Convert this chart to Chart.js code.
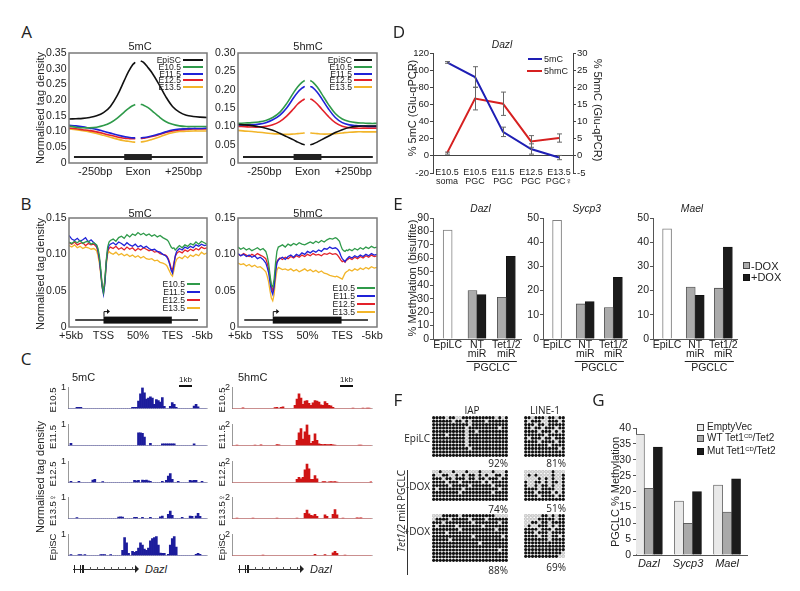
<!DOCTYPE html>
<html><head><meta charset="utf-8">
<script src="https://cdn.jsdelivr.net/npm/chart.js@4.4.1/dist/chart.umd.min.js"></script>
<style>
html,body{margin:0;padding:0;background:#fff;}
#fig{position:relative;width:800px;height:591px;overflow:hidden;background:#fff;}
#fig canvas{position:absolute;}
.t{position:absolute;white-space:nowrap;color:#222;line-height:1;}
.t sup{font-size:0.6em;vertical-align:0.5em;line-height:0;}
.r{position:absolute;box-sizing:border-box;}
</style></head><body><div id="fig"></div>
<script>
// ================= DATA =================
// Panel A (exon-centred profiles)
const seriesNames = ['EpiSC','E10.5','E11.5','E12.5','E13.5'];
const seriesColors = ['#111111','#2f9a4a','#1f22d8','#e3212a','#f2b52a'];
const xA = [0,5,10,15,20,25,30,35,40,43,46,48,50,52,54,57,60,65,70,75,80,85,90,95,100];
const aTickPos = [19,50,83];
const aTickLab = ['-250bp','Exon','+250bp'];
const a5mC_EpiSC = [0.140,0.141,0.142,0.145,0.150,0.160,0.180,0.215,0.262,0.290,0.312,0.320,null,0.325,0.320,0.305,0.288,0.252,0.212,0.180,0.162,0.152,0.148,0.146,0.145];
const a5mC_E105  = [0.118,0.114,0.112,0.112,0.114,0.119,0.128,0.143,0.162,0.173,0.182,0.186,null,0.187,0.184,0.177,0.167,0.148,0.132,0.123,0.118,0.116,0.116,0.116,0.116];
const a5mC_E115  = [0.120,0.118,0.115,0.111,0.107,0.101,0.095,0.089,0.084,0.082,0.080,0.080,null,0.080,0.081,0.083,0.086,0.092,0.099,0.105,0.108,0.109,0.110,0.110,0.111];
const a5mC_E125  = [0.111,0.109,0.106,0.103,0.099,0.094,0.088,0.083,0.079,0.078,0.077,0.077,null,0.078,0.079,0.081,0.084,0.090,0.097,0.102,0.105,0.107,0.108,0.108,0.108];
const a5mC_E135  = [0.108,0.106,0.103,0.099,0.094,0.088,0.082,0.076,0.071,0.069,0.067,0.066,null,0.067,0.068,0.071,0.075,0.082,0.090,0.096,0.100,0.101,0.102,0.102,0.102];
const a5hmC_EpiSC= [0.105,0.104,0.102,0.099,0.095,0.089,0.081,0.072,0.063,0.057,0.052,0.050,null,0.050,0.052,0.057,0.063,0.073,0.083,0.091,0.097,0.100,0.101,0.101,0.101];
const a5hmC_E105 = [0.108,0.109,0.110,0.112,0.116,0.124,0.138,0.162,0.192,0.208,0.220,0.225,null,0.225,0.220,0.207,0.190,0.160,0.135,0.120,0.113,0.110,0.109,0.108,0.108];
const a5hmC_E115 = [0.104,0.104,0.104,0.106,0.110,0.118,0.130,0.150,0.178,0.193,0.204,0.209,null,0.209,0.205,0.193,0.177,0.148,0.124,0.110,0.104,0.102,0.101,0.100,0.100];
const a5hmC_E125 = [0.100,0.099,0.098,0.098,0.100,0.104,0.113,0.128,0.148,0.161,0.170,0.175,null,0.175,0.171,0.161,0.148,0.127,0.110,0.100,0.096,0.095,0.095,0.095,0.095];
const a5hmC_E135 = [0.089,0.087,0.086,0.084,0.082,0.080,0.079,0.078,0.079,0.080,0.081,0.082,null,0.082,0.081,0.080,0.079,0.079,0.080,0.082,0.084,0.085,0.085,0.085,0.085];

// Panel B (gene-body metaprofiles)
const xB = [0,2,4,6,8,10,12,14,16,18,20,21,22,23,24,25,26,27,28,29,30,32,34,36,38,40,42,44,46,48,50,52,54,56,58,60,62,64,66,68,70,71,72,73,74,75,76,77,78,79,80,82,84,86,88,90,92,94,96,98,100];
const bTickPos = [1.5,25,50,75,96.5];
const bTickLab = ['+5kb','TSS','50%','TES','-5kb'];
const b5mC_E105 = [0.117,0.115,0.118,0.116,0.119,0.115,0.117,0.118,0.114,0.116,0.113,0.108,0.098,0.080,0.058,0.048,0.065,0.092,0.110,0.117,0.119,0.121,0.118,0.123,0.125,0.122,0.127,0.124,0.128,0.126,0.130,0.127,0.129,0.126,0.128,0.125,0.127,0.124,0.126,0.123,0.121,0.120,0.118,0.114,0.110,0.108,0.109,0.106,0.108,0.110,0.112,0.109,0.113,0.111,0.115,0.113,0.117,0.114,0.118,0.116,0.114];
const b5mC_E115 = [0.126,0.121,0.119,0.122,0.118,0.120,0.123,0.117,0.120,0.116,0.112,0.105,0.094,0.075,0.055,0.045,0.060,0.088,0.106,0.112,0.114,0.116,0.113,0.117,0.115,0.112,0.116,0.113,0.111,0.114,0.110,0.112,0.109,0.111,0.108,0.106,0.107,0.104,0.103,0.100,0.098,0.096,0.092,0.086,0.078,0.074,0.085,0.098,0.104,0.106,0.108,0.106,0.110,0.108,0.111,0.109,0.113,0.111,0.114,0.112,0.113];
const b5mC_E125 = [0.116,0.114,0.117,0.113,0.115,0.116,0.112,0.115,0.113,0.114,0.110,0.104,0.093,0.076,0.058,0.050,0.064,0.090,0.104,0.108,0.110,0.108,0.111,0.107,0.109,0.106,0.110,0.107,0.109,0.105,0.108,0.106,0.109,0.107,0.105,0.106,0.103,0.104,0.101,0.100,0.099,0.097,0.094,0.088,0.081,0.078,0.088,0.097,0.101,0.103,0.104,0.102,0.106,0.104,0.107,0.105,0.108,0.106,0.110,0.108,0.109];
const b5mC_E135 = [0.112,0.110,0.113,0.109,0.111,0.108,0.110,0.109,0.107,0.108,0.105,0.098,0.088,0.072,0.054,0.046,0.060,0.085,0.100,0.104,0.102,0.100,0.103,0.099,0.101,0.098,0.100,0.097,0.099,0.096,0.098,0.095,0.097,0.094,0.093,0.094,0.091,0.092,0.089,0.088,0.086,0.084,0.080,0.076,0.072,0.070,0.078,0.088,0.093,0.095,0.096,0.094,0.098,0.095,0.099,0.097,0.100,0.098,0.103,0.100,0.102];
const b5hmC_E105 = [0.110,0.107,0.109,0.106,0.108,0.105,0.107,0.109,0.106,0.108,0.104,0.098,0.088,0.072,0.058,0.055,0.066,0.088,0.104,0.110,0.111,0.113,0.110,0.114,0.112,0.115,0.113,0.116,0.114,0.113,0.115,0.117,0.115,0.118,0.116,0.119,0.117,0.120,0.122,0.121,0.123,0.122,0.120,0.118,0.112,0.107,0.105,0.104,0.106,0.105,0.107,0.105,0.108,0.106,0.109,0.107,0.110,0.108,0.111,0.109,0.110];
const b5hmC_E115 = [0.101,0.098,0.100,0.097,0.099,0.096,0.098,0.094,0.096,0.093,0.088,0.082,0.075,0.062,0.050,0.045,0.055,0.075,0.088,0.092,0.094,0.096,0.093,0.097,0.099,0.096,0.100,0.098,0.102,0.100,0.104,0.102,0.105,0.103,0.106,0.104,0.108,0.107,0.110,0.108,0.109,0.108,0.106,0.103,0.098,0.094,0.092,0.090,0.093,0.095,0.097,0.095,0.098,0.096,0.099,0.097,0.100,0.098,0.101,0.099,0.100];
const b5hmC_E125 = [0.100,0.098,0.101,0.099,0.097,0.100,0.098,0.101,0.099,0.097,0.094,0.088,0.080,0.068,0.055,0.050,0.058,0.078,0.090,0.093,0.095,0.093,0.096,0.094,0.097,0.095,0.098,0.096,0.099,0.097,0.100,0.098,0.101,0.099,0.100,0.098,0.101,0.100,0.102,0.100,0.101,0.100,0.098,0.095,0.092,0.090,0.091,0.089,0.092,0.093,0.095,0.093,0.096,0.094,0.097,0.095,0.098,0.096,0.099,0.097,0.098];
const b5hmC_E135 = [0.088,0.086,0.087,0.084,0.086,0.083,0.085,0.082,0.083,0.080,0.076,0.070,0.062,0.050,0.040,0.036,0.045,0.065,0.078,0.082,0.081,0.079,0.080,0.078,0.080,0.077,0.079,0.076,0.078,0.080,0.077,0.079,0.076,0.078,0.075,0.077,0.074,0.073,0.071,0.070,0.069,0.070,0.069,0.068,0.067,0.066,0.070,0.074,0.076,0.077,0.079,0.077,0.080,0.078,0.081,0.079,0.082,0.080,0.083,0.081,0.082];

// Panel C (browser tracks, Dazl locus, 70 bins)
const cTrackNames = ['E10.5','E11.5','E12.5','E13.5\u2640','EpiSC'];
const mC_E105 = [0,0,0,0,0.06,0.06,0.05,0,0,0, 0,0,0,0,0,0,0,0,0,0, 0,0,0,0,0,0,0,0,0,0, 0,0,0.05,0.05,0.06,0.35,0.7,1.0,0.75,0.45, 0.5,0.55,0.5,0.2,0.42,0.38,0.3,0.52,0.1,0, 0,0.1,0.28,0.2,0.05,0,0,0,0,0, 0,0,0,0.12,0.2,0.08,0,0,0,0];
const mC_E115 = [0,0.1,0,0,0,0,0,0,0,0, 0,0,0,0,0,0,0,0,0,0, 0,0,0,0,0,0,0,0,0,0, 0,0,0,0,0,0.6,0.6,0.58,0.4,0, 0,0.1,0,0,0,0,0,0.08,0.08,0.08, 0.08,0.08,0.08,0.08,0,0,0,0,0,0, 0,0,0,0.08,0,0,0,0,0,0];
const mC_E125 = [0,0.05,0,0,0,0.05,0,0,0,0, 0,0,0.12,0.15,0,0,0,0.04,0,0, 0,0,0,0,0,0,0,0,0,0, 0,0,0,0.1,0.08,0.1,0,0.12,0.1,0.12, 0.08,0.05,0,0,0,0,0,0.06,0,0.1, 0.3,0.42,0.15,0,0,0.05,0,0,0,0, 0,0.1,0.08,0.1,0.1,0,0,0.05,0,0];
const mC_E135 = [0,0,0,0,0.04,0,0,0,0,0, 0,0,0,0,0,0,0,0,0,0, 0,0,0,0,0,0.07,0.08,0.07,0,0, 0,0,0,0.06,0.06,0,0,0.05,0,0, 0,0.06,0,0,0,0,0.08,0.12,0,0, 0.2,0.35,0.15,0,0,0,0,0.06,0,0, 0,0.12,0.1,0,0.12,0.25,0.1,0,0,0];
const mC_EpiSC = [0,0.04,0,0,0,0.04,0.04,0,0.04,0, 0,0,0,0,0,0,0.04,0.04,0.04,0, 0,0.04,0,0,0,0,0,0.25,0.85,0.6, 0.1,0,0.2,0.15,0.2,0.35,0.6,0.5,0.3,0.25, 0.35,0.7,0.8,0.85,0.9,0.5,0.12,0.1,0.1,0, 0.05,0.5,0.8,0.9,0.4,0,0,0,0,0, 0,0,0,0,0.06,0.1,0.05,0,0,0];
const hmC_E105 = [0,0,0,0,0,0.06,0,0,0,0, 0,0,0,0,0,0,0,0,0,0, 0,0.08,0.1,0,0.12,0.15,0,0,0,0, 0,0.3,0.9,1.4,1.0,0.4,0.7,0.75,0.5,0.3, 0.55,0.75,0.7,0.6,0.35,0.3,0.65,0.5,0.3,0.25, 0.1,0,0,0,0,0,0,0,0,0, 0.05,0,0,0,0,0.05,0,0.05,0.05,0];
const hmC_E115 = [0,0,0.05,0,0,0,0,0,0,0, 0,0.05,0,0,0.07,0,0,0,0,0, 0,0,0.08,0.07,0,0,0,0,0,0, 0,0,0.5,1.2,1.6,0.6,1.3,2.0,1.0,0.2, 0.4,1.1,0.5,0.15,0.1,0.08,0.1,0.08,0.08,0.1, 0.06,0.05,0,0,0,0,0,0,0,0, 0,0,0,0.05,0.05,0,0,0,0,0];
const hmC_E125 = [0,0,0,0,0,0,0,0,0,0, 0,0,0,0,0,0,0,0,0,0, 0,0,0,0,0,0,0,0,0,0, 0,0,0.3,0.5,0.35,0.5,1.2,1.75,1.3,0.3, 0.3,0.65,0.35,0,0,0.08,0.08,0,0.06,0.08, 0.06,0.08,0.05,0,0,0,0,0,0,0, 0,0,0,0,0,0,0,0,0,0.06];
const hmC_E135 = [0,0,0.05,0,0,0,0,0,0,0, 0.05,0,0,0,0,0,0,0,0,0, 0,0,0.05,0,0,0,0,0,0,0, 0,0,0.05,0,0,0,0.5,0.8,0.45,0.3, 0.25,0.4,0.2,0,0,0,0.35,0.2,0,0, 0.4,0.85,0.35,0,0,0.05,0,0,0,0, 0,0,0.06,0.05,0.06,0,0,0,0,0];
const hmC_EpiSC = [0,0,0,0,0,0,0,0,0,0, 0,0,0,0,0,0.05,0,0,0,0, 0,0,0,0,0,0,0,0,0,0, 0,0,0,0,0,0,0,0,0,0, 0,0.12,0,0,0,0,0.08,0,0,0, 0.25,0.4,0.2,0,0,0,0.05,0,0,0, 0,0,0,0,0,0,0,0,0,0];

// Panel D (Dazl Glu-qPCR)
const dCats = [['E10.5','soma'],['E10.5','PGC'],['E11.5','PGC'],['E12.5','PGC'],['E13.5','PGC\u2640']];
const d5mC = [109, 92, 28, 8, -2];
const d5mCErr = [1, 12, 5.5, 6, 2.5];
const d5hmC = [0.8, 16.7, 15.2, 4.2, 5.2];
const d5hmCErr = [0.3, 3.3, 3.4, 1.7, 1.2];

// Panel E (bisulfite)
const eCats = ['EpiLC', ['NT','miR'], ['Tet1/2','miR']];
const eDazl_EpiLC = [81, null, null];
const eDazl_minus = [null, 36, 31];
const eDazl_plus  = [null, 33, 61.5];
const eSycp3_EpiLC = [49, null, null];
const eSycp3_minus = [null, 14.5, 13];
const eSycp3_plus  = [null, 15.5, 25.5];
const eMael_EpiLC = [45.5, null, null];
const eMael_minus = [null, 21.5, 21];
const eMael_plus  = [null, 18, 38];

// Panel F (bisulfite clones: 1 = methylated CpG, 0 = unmethylated)
const fIAP_EpiLC = ["11110110011111111110101","11111101101011110111111","11111111111011111111111","11111111110111111111011","11111111110110111111111","11110111110111111111111","11111111110111111111111","11111111110111111111111","11111111110111111111111","11111111111011111111111","11111111111111111111111","11111111111111111111111"];
const fL1_EpiLC = ["110111011011","101110011101","111011011111","110110111011","111101110101","111111011111","101110110111","111101111011","111111101111","111111111101","111111111111","111111111111"];
const fIAP_minus = ["00100010001000100010001","10011001010110101001101","11101101110110110111011","11110111011111101011111","11111011111011111101111","10111111101111111111011","11111111011111111101111","11111111111111111111111","11111111111111111111111"];
const fL1_minus = ["000000001000","010100001001","000010101001","100110101101","100101101001","111101111001","111011110101","111101111011","111111111111"];
const fIAP_plus = ["00011111011111111110000","01111011111011110111111","11101111111101111111011","10111110111111101111111","11111111011111111110111","11110111111111111111111","11111111111101111111101","11111011111111111111111","11111111111111011111111","11111111111111111111111","11111111111111111111011","11111111111111111111111","11111111111111111111111","11111111111111111111111"];
const fL1_plus = ["000001101011","000011111011","001101101111","010011101011","111101110111","111011101111","111101101101","111111101111","111111111111","111111111111","111111111111","111111111110","111111111100"];

// Panel G
const gCats = ['Dazl','Sycp3','Mael'];
const gEmpty = [38, 17, 22];
const gWT = [21, 10, 13.5];
const gMut = [34, 20, 24];

// ================= SETUP =================
const fig = document.getElementById('fig');
const SANS = "'Liberation Sans', Arial, sans-serif";
const NARROW = "'Liberation Sans Narrow', 'Arial Narrow', 'Liberation Sans', Arial, sans-serif";
const OPEN = "'Open Sans', 'Liberation Sans', sans-serif";
const _mc = document.createElement('canvas').getContext('2d');
function mw(f){ _mc.font = '20px ' + f; return _mc.measureText('Sycp3 E10.5 120').width; }
const HAS_NARROW = mw(NARROW) < 0.92 * mw(SANS);
const NF = HAS_NARROW ? NARROW : SANS;
function ns(s){ return HAS_NARROW ? s : Math.round(s * 0.86 * 10) / 10; }

Chart.defaults.font.family = SANS;
Chart.defaults.font.size = 10;
Chart.defaults.font.lineHeight = 1;
Chart.defaults.color = '#222';
Chart.defaults.plugins.legend.display = false;
Chart.defaults.plugins.tooltip.enabled = false;
Chart.defaults.events = [];

const framePlugin = { id:'frame', defaults:{color:null, width:1},
  afterDraw(ch, a, o){ if(!o.color) return; const r = ch.chartArea, c = ch.ctx; c.save(); c.strokeStyle = o.color; c.lineWidth = o.width; c.strokeRect(r.left, r.top, r.right - r.left, r.bottom - r.top); c.restore(); } };
const genePlugin = { id:'gene', defaults:{show:false},
  afterDraw(ch, a, o){ if(!o.show) return; const x = ch.scales.x, y = ch.scales.y, c = ch.ctx; const py = y.getPixelForValue(o.y);
    c.save(); c.strokeStyle = o.color; c.fillStyle = o.color; c.lineWidth = o.lw;
    c.beginPath(); c.moveTo(x.getPixelForValue(o.from), py); c.lineTo(x.getPixelForValue(o.to), py); c.stroke();
    const b0 = x.getPixelForValue(o.boxFrom), b1 = x.getPixelForValue(o.boxTo);
    c.fillRect(b0, py - o.boxH/2, b1 - b0, o.boxH);
    if(o.arrow){ const tp = py - o.boxH/2; c.lineWidth = 1; c.beginPath(); c.moveTo(b0 + 0.5, tp); c.lineTo(b0 + 0.5, tp - 5); c.lineTo(b0 + 4, tp - 5); c.stroke();
      c.beginPath(); c.moveTo(b0 + 6.5, tp - 5); c.lineTo(b0 + 3.5, tp - 7.5); c.lineTo(b0 + 3.5, tp - 2.5); c.closePath(); c.fill(); }
    c.restore(); } };
const errPlugin = { id:'errbars',
  afterDatasetsDraw(ch){ const c = ch.ctx; ch.data.datasets.forEach((ds, i) => { if(!ds.errors) return; const meta = ch.getDatasetMeta(i); const ys = ch.scales[ds.yAxisID || 'y'];
    c.save(); c.strokeStyle = '#666'; c.lineWidth = 1;
    meta.data.forEach((pt, j) => { const v = ds.data[j], e = ds.errors[j]; if(v == null || !e) return; const y0 = ys.getPixelForValue(v - e), y1 = ys.getPixelForValue(v + e), x = Math.round(pt.x) + 0.5;
      c.beginPath(); c.moveTo(x, y0); c.lineTo(x, y1); c.moveTo(x - 2.5, y0); c.lineTo(x + 2.5, y0); c.moveTo(x - 2.5, y1); c.lineTo(x + 2.5, y1); c.stroke(); });
    c.restore(); }); } };
const bracketPlugin = { id:'bracket', defaults:{show:false},
  afterDraw(ch, a, o){ if(!o.show) return; const x = ch.scales.x, c = ch.ctx; const x0 = x.getPixelForValue(o.from) - o.pad, x1 = x.getPixelForValue(o.to) + o.pad; const y = Math.round(ch.chartArea.bottom + o.dy) + 0.5;
    c.save(); c.strokeStyle = '#222'; c.lineWidth = 1; c.beginPath(); c.moveTo(x0, y); c.lineTo(x1, y); c.stroke();
    c.fillStyle = '#222'; c.font = o.font; c.textAlign = 'center'; c.textBaseline = 'middle'; c.fillText(o.text, (x0 + x1)/2, y + o.ty); c.restore(); } };
// category labels placed at a chosen offset from the plot bottom (used in D, where labels overlap the plot edge)
const catLabelPlugin = { id:'catLabels', defaults:{show:false},
  afterDraw(ch, a, o){ if(!o.show) return; const x = ch.scales.x, c = ch.ctx; c.save(); c.fillStyle = '#222'; c.font = o.font; c.textAlign = 'center'; c.textBaseline = 'middle';
    ch.data.labels.forEach((lab, i) => { const px = x.getPixelForValue(i); (Array.isArray(lab) ? lab : [lab]).forEach((t, k) => c.fillText(t, px, ch.chartArea.bottom + o.dy + k * o.lh)); });
    c.restore(); } };
Chart.register(framePlugin, genePlugin, errPlugin, bracketPlugin, catLabelPlugin);

const NOGRID = {display:false, drawTicks:false, tickLength:0};
function fw(n){ return s => { s.width = n; }; }
function fh(n){ return s => { s.height = n; }; }
function mk(rect, ax, cfg){
  const [L, T, R, B] = rect; const yl = ax.yl||0, yr = ax.yr||0, xb = ax.xb||0, pt = ax.pt||0, pr = ax.pr||0;
  const W = Math.round(R - L + yl + yr + pr), H = Math.round(B - T + pt + xb);
  const c = document.createElement('canvas'); c.width = W; c.height = H;
  c.style.left = Math.round(L - yl) + 'px'; c.style.top = Math.round(T - pt) + 'px'; c.style.width = W + 'px'; c.style.height = H + 'px';
  fig.appendChild(c);
  cfg.options = cfg.options || {};
  Object.assign(cfg.options, {responsive:false, animation:false, devicePixelRatio:1, layout:{autoPadding:false, padding:{top:pt, right:pr, left:0, bottom:0}}});
  return new Chart(c, cfg);
}
function txt(html, x, y, o){ o = o || {}; const d = document.createElement('div'); d.className = 't'; d.innerHTML = html;
  d.style.fontFamily = o.font || SANS; d.style.fontSize = (o.size || 11) + 'px'; if(o.italic) d.style.fontStyle = 'italic';
  d.style.left = x + 'px'; d.style.top = y + 'px';
  const a = o.anchor || 'c'; const tx = a === 'c' ? '-50%' : (a === 'r' ? '-100%' : '0');
  d.style.transform = 'translate(' + tx + ',-50%)' + (o.rot ? ' rotate(' + o.rot + 'deg)' : '');
  fig.appendChild(d); }
function box(x, y, w, h, fill, stroke){ const d = document.createElement('div'); d.className = 'r';
  d.style.left = x + 'px'; d.style.top = y + 'px'; d.style.width = w + 'px'; d.style.height = h + 'px'; d.style.background = fill;
  if(stroke) d.style.border = '1px solid ' + stroke; fig.appendChild(d); }

// ================= PANEL A & B =================
function lineDS(xs, ys, color, w, tension){ return {data: xs.map((x, i) => ({x: x, y: ys[i]})), borderColor: color, borderWidth: w, pointRadius: 0, tension: tension, spanGaps: false, fill: false}; }
function profileChart(rect, xs, series, colors, ymax, tickPos, tickLab, gene, pr, w, tension){
  return mk(rect, {yl:34, xb:16, pt:8, pr:pr}, {type:'line',
    data:{datasets: series.map((s, i) => lineDS(xs, s, colors[i], w, tension))},
    options:{ scales:{
      x:{type:'linear', min:0, max:100, grid:NOGRID, border:{display:false},
         afterBuildTicks: s => { s.ticks = tickPos.map(v => ({value:v})); },
         ticks:{padding:3.5, font:{size:11}, autoSkip:false, maxRotation:0, callback:(v, i) => tickLab[i]}, afterFit: fh(16)},
      y:{min:0, max:ymax, grid:NOGRID, border:{display:false},
         ticks:{stepSize:0.05, padding:2.5, autoSkip:false, font:{size:10.5}, callback: v => v === 0 ? '0' : v.toFixed(2)}, afterFit: fw(34)} },
      plugins:{ frame:{color:'#7a7a7a', width:1.5}, gene: gene } } });
}
profileChart([69,53,207,163], xA, [a5mC_EpiSC,a5mC_E105,a5mC_E115,a5mC_E125,a5mC_E135], seriesColors, 0.35, aTickPos, aTickLab,
  {show:true, y:0.019, from:3.6, to:97, boxFrom:40, boxTo:60, boxH:6, lw:2, color:'#222', arrow:false}, 4, 1.6, 0.35);
profileChart([238,53,377,163], xA, [a5hmC_EpiSC,a5hmC_E105,a5hmC_E115,a5hmC_E125,a5hmC_E135], seriesColors, 0.30, aTickPos, aTickLab,
  {show:true, y:0.0164, from:3.6, to:97, boxFrom:40, boxTo:60, boxH:6, lw:2, color:'#222', arrow:false}, 4, 1.6, 0.35);

const bColors = seriesColors.slice(1);
profileChart([69,218,207,327], xB, [b5mC_E105,b5mC_E115,b5mC_E125,b5mC_E135], bColors, 0.15, bTickPos, bTickLab,
  {show:true, y:0.0095, from:4.5, to:93.5, boxFrom:25, boxTo:74.5, boxH:7, lw:1.5, color:'#111', arrow:true}, 12, 1.3, 0);
profileChart([238,218,377,327], xB, [b5hmC_E105,b5hmC_E115,b5hmC_E125,b5hmC_E135], bColors, 0.15, bTickPos, bTickLab,
  {show:true, y:0.0095, from:4.5, to:93.5, boxFrom:25, boxTo:74.5, boxH:7, lw:1.5, color:'#111', arrow:true}, 12, 1.3, 0);

// ================= PANEL C =================
const cBins = mC_E105.map((v, i) => i);
const cTops = [387, 424, 461, 497, 534];
const cH = 26.5;
function trackChart(rect, vals, ymax, color){
  return mk(rect, {yl:12, xb:1, pt:6, pr:1}, {type:'bar',
    data:{labels:cBins, datasets:[{data:vals, backgroundColor:color, borderWidth:0, barPercentage:1, categoryPercentage:1}]},
    options:{ scales:{
      x:{grid:NOGRID, ticks:{display:false}, border:{color:'#c8c8c8', width:1}, afterFit: fh(1)},
      y:{min:0, max:ymax, afterBuildTicks: s => { s.ticks = [{value:ymax}]; }, grid:NOGRID, border:{color:'#999', width:1},
         ticks:{padding:2, font:{size:9}, autoSkip:false}, afterFit: fw(12)} } } });
}
[mC_E105, mC_E115, mC_E125, mC_E135, mC_EpiSC].forEach((v, i) => trackChart([68, cTops[i], 207, cTops[i] + cH], v, 1, '#1c1c9c'));
[hmC_E105, hmC_E115, hmC_E125, hmC_E135, hmC_EpiSC].forEach((v, i) => trackChart([232, cTops[i], 372, cTops[i] + cH], v, 2, '#cf1414'));

// ================= PANEL D =================
mk([433,53,573,173], {yl:22, yr:18, xb:24, pt:8}, {type:'line',
  data:{labels:dCats, datasets:[
    {label:'5mC', data:d5mC, errors:d5mCErr, yAxisID:'y', borderColor:'#1e1eb4', borderWidth:2, pointRadius:0, tension:0},
    {label:'5hmC', data:d5hmC, errors:d5hmCErr, yAxisID:'y1', borderColor:'#d62020', borderWidth:2, pointRadius:0, tension:0}]},
  options:{ scales:{
    x:{offset:true, grid:NOGRID, border:{display:false}, ticks:{display:false}, afterFit: fh(24)},
    y:{min:-20, max:120, ticks:{stepSize:20, padding:1, autoSkip:false, font:{family:NF, size:ns(11)}},
       grid:{color: c => (c.tick && c.tick.value === 0) ? '#444' : 'rgba(0,0,0,0)', tickColor:'#444', tickLength:3, lineWidth:1}, border:{color:'#444'}, afterFit: fw(22)},
    y1:{position:'right', min:-5, max:30, ticks:{stepSize:5, padding:1, autoSkip:false, font:{family:NF, size:ns(11)}},
       grid:{drawOnChartArea:false, tickColor:'#444', tickLength:3}, border:{color:'#444'}, afterFit: fw(18)} },
    plugins:{ catLabels:{show:true, dy:-0.3, lh:9, font: ns(10.5) + 'px ' + NF} } } });

// ================= PANEL E =================
function bisChart(rect, ymax, epi, minus, plus){
  const common = {skipNull:true, barThickness:9};
  return mk(rect, {yl:24, xb:40, pt:8, pr:2}, {type:'bar',
    data:{labels:eCats, datasets:[
      Object.assign({data:epi, backgroundColor:'#ffffff', borderColor:'#808080', borderWidth:1}, common),
      Object.assign({data:minus, backgroundColor:'#ababab', borderColor:'#4a4a4a', borderWidth:0.8}, common),
      Object.assign({data:plus, backgroundColor:'#1b1b1b', borderColor:'#111', borderWidth:0.8}, common)]},
    options:{ scales:{
      x:{grid:NOGRID, border:{color:'#555'}, ticks:{padding:2, font:{size:10.5, lineHeight:0.85}, autoSkip:false, maxRotation:0}, afterFit: fh(40)},
      y:{min:0, max:ymax, ticks:{stepSize:10, padding:1, autoSkip:false, font:{size:10.5}}, grid:{drawOnChartArea:false, tickLength:3, color:'#555'}, border:{color:'#555'}, afterFit: fw(24)} },
      plugins:{ bracket:{show:true, from:1, to:2, pad:10.5, dy:22.4, ty:6.8, text:'PGCLC', font:'10.5px ' + SANS} } } });
}
bisChart([433,218,521,339], 90, eDazl_EpiLC, eDazl_minus, eDazl_plus);
bisChart([543,218,628,339], 50, eSycp3_EpiLC, eSycp3_minus, eSycp3_plus);
bisChart([653,218,738,339], 50, eMael_EpiLC, eMael_minus, eMael_plus);

// ================= PANEL F =================
function matrixChart(rect, rows){
  const meth = [], un = [];
  rows.forEach((r, ri) => { r.split('').forEach((ch, ci) => { (ch === '1' ? meth : un).push({x:ci, y:ri}); }); });
  const nc = rows[0].length, nr = rows.length;
  return mk(rect, {}, {type:'scatter', data:{datasets:[
      {data:un, pointRadius:1.45, backgroundColor:'#e2e2e2', borderColor:'#b0b0b0', borderWidth:0.6},
      {data:meth, pointRadius:1.6, backgroundColor:'#111', borderColor:'#111', borderWidth:0}]},
    options:{ scales:{ x:{type:'linear', display:false, min:-0.5, max:nc - 0.5}, y:{type:'linear', display:false, reverse:true, min:-0.5, max:nr - 0.5} } } });
}
matrixChart([432,416,508,457], fIAP_EpiLC);
matrixChart([524,416,565,457], fL1_EpiLC);
matrixChart([432,470,508,501], fIAP_minus);
matrixChart([524,470,565,501], fL1_minus);
matrixChart([432,514,508,562], fIAP_plus);
matrixChart([524,514,565,558], fL1_plus);

// ================= PANEL G =================
mk([636,428,747,555], {yl:24, xb:18, pt:8, pr:4}, {type:'bar',
  data:{datasets:[
    {data:gEmpty.map((v, i) => ({x:i, y:v})), backgroundColor:'#e9e9e9', borderColor:'#4a4a4a', borderWidth:0.8, barThickness:9},
    {data:gWT.map((v, i) => ({x:i, y:v})), backgroundColor:'#a9a9a9', borderColor:'#4a4a4a', borderWidth:0.8, barThickness:9},
    {data:gMut.map((v, i) => ({x:i, y:v})), backgroundColor:'#1b1b1b', borderColor:'#111', borderWidth:0.8, barThickness:9}]},
  options:{ scales:{
    x:{type:'linear', offset:false, min:-0.33, max:2.51, grid:NOGRID, border:{color:'#555'},
       afterBuildTicks: s => { s.ticks = gCats.map((c, i) => ({value:i})); },
       ticks:{padding:3, font:{size:11, style:'italic'}, autoSkip:false, maxRotation:0, callback:(v, i) => gCats[i]}, afterFit: fh(18)},
    y:{min:0, max:40, ticks:{stepSize:5, padding:2, autoSkip:false, font:{size:10.5}}, grid:{drawOnChartArea:false, tickLength:3, color:'#555'}, border:{color:'#555'}, afterFit: fw(24)} } } });

// ================= TEXT & ANNOTATIONS =================
[['A',26.5,31],['B',26,202.5],['C',26,357.5],['D',399,31],['E',398,202.5],['F',398,399],['G',598.5,399]].forEach(p => txt(p[0], p[1], p[2], {font:OPEN, size:17}));

// A
txt('5mC', 140, 46, {size:11}); txt('5hmC', 308, 46, {size:11});
txt('Normalised tag density', 40, 108, {size:11, rot:-90});
const legARows = [60, 66.8, 73.5, 80.3, 87];
seriesNames.forEach((n, i) => {
  txt(n, 181, legARows[i], {anchor:'r', font:NF, size:ns(10)}); box(183, legARows[i] - 1, 20, 2, seriesColors[i]);
  txt(n, 352, legARows[i], {anchor:'r', font:NF, size:ns(10)}); box(354, legARows[i] - 1, 18, 2, seriesColors[i]);
});
// B
txt('5mC', 140, 213, {size:11}); txt('5hmC', 308, 213, {size:11});
txt('Normalised tag density', 40, 274, {size:11, rot:-90});
const legBL = [284.3, 292.3, 300.2, 308.3], legBR = [288.3, 296.3, 304, 312];
seriesNames.slice(1).forEach((n, i) => {
  txt(n, 185, legBL[i], {anchor:'r', font:NF, size:ns(10)}); box(187, legBL[i] - 1, 13, 2, bColors[i]);
  txt(n, 355, legBR[i], {anchor:'r', font:NF, size:ns(10)}); box(357, legBR[i] - 1, 18, 2, bColors[i]);
});
// C
txt('5mC', 72, 377, {anchor:'l', size:11}); txt('5hmC', 238, 377, {anchor:'l', size:11});
txt('1kb', 185.5, 380, {size:8}); box(179, 385, 13, 2, '#111');
txt('1kb', 346.5, 380, {size:8}); box(340, 385, 13, 2, '#111');
txt('Normalised tag density', 40, 477, {size:11, rot:-90});
cTrackNames.forEach((n, i) => { const cy = cTops[i] + cH/2; txt(n, 53, cy, {font:NF, size:ns(11), rot:-90}); txt(n, 222, cy, {font:NF, size:ns(11), rot:-90}); });
[0, 165].forEach(dx => {
  box(73 + dx, 568.5, 64, 1, '#333');
  box(74 + dx, 565, 1, 8, '#222'); box(79.5 + dx, 565, 1.5, 8, '#222'); box(82 + dx, 565, 1.5, 8, '#222');
  [90, 97, 104, 111, 118, 125, 132].forEach(x => box(x + dx, 567, 1, 3, '#555'));
  const tri = document.createElement('div'); tri.className = 'r';
  tri.style.left = (135 + dx) + 'px'; tri.style.top = '565px'; tri.style.width = '0'; tri.style.height = '0';
  tri.style.borderTop = '4px solid transparent'; tri.style.borderBottom = '4px solid transparent'; tri.style.borderLeft = '4px solid #222';
  fig.appendChild(tri);
  txt('Dazl', 145 + dx, 569, {anchor:'l', size:11, italic:true});
});
// D
txt('Dazl', 502, 45, {font:NF, size:ns(12), italic:true});
txt('% 5mC (Glu-qPCR)', 412, 108, {size:11, rot:-90});
txt('% 5hmC (Glu-qPCR)', 597, 110, {size:11, rot:90});
box(528, 58, 14, 2, '#1e1eb4'); txt('5mC', 544, 59, {anchor:'l', font:NF, size:ns(10.5)});
box(527, 70, 15, 2, '#d62020'); txt('5hmC', 544, 71, {anchor:'l', font:NF, size:ns(10.5)});
// E
txt('Dazl', 480.5, 209, {font:NF, size:ns(12), italic:true});
txt('Sycp3', 586.7, 209, {font:NF, size:ns(12), italic:true});
txt('Mael', 692, 209, {font:NF, size:ns(12), italic:true});
txt('% Methylation (bisulfite)', 412, 278, {size:11, rot:-90});
box(743, 262, 7, 7, '#ababab', '#444'); txt('-DOX', 751, 265.5, {anchor:'l', size:11});
box(743, 273.5, 7, 7, '#1b1b1b', '#111'); txt('+DOX', 751, 277, {anchor:'l', size:11});
// F
txt('IAP', 472, 410, {font:OPEN, size:10}); txt('LINE-1', 545, 410, {font:OPEN, size:10});
txt('EpiLC', 430, 438, {anchor:'r', font:OPEN, size:10});
txt('-DOX', 430, 486, {anchor:'r', font:OPEN, size:10});
txt('+DOX', 430, 531, {anchor:'r', font:OPEN, size:10});
txt('92%', 508, 463, {anchor:'r', font:OPEN, size:10}); txt('81%', 566, 463, {anchor:'r', font:OPEN, size:10});
txt('74%', 508, 509, {anchor:'r', font:OPEN, size:10}); txt('51%', 566, 508, {anchor:'r', font:OPEN, size:10});
txt('88%', 508, 570, {anchor:'r', font:OPEN, size:10}); txt('69%', 566, 567, {anchor:'r', font:OPEN, size:10});
txt('<i>Tet1/2</i> miR PGCLC', 401, 511, {font:OPEN, size:10, rot:-90});
box(406.5, 470, 1, 105, '#333');
// G
txt('PGCLC % Methylation', 615, 492, {size:11, rot:-90});
box(697, 424, 7, 7, '#e9e9e9', '#444'); txt('EmptyVec', 707, 427.3, {anchor:'l', size:10});
box(697, 435, 7, 7, '#a9a9a9', '#444'); txt('WT Tet1<sup>CD</sup>/Tet2', 707, 438.3, {anchor:'l', size:10});
box(697, 447.5, 7, 7, '#1b1b1b', '#111'); txt('Mut Tet1<sup>CD</sup>/Tet2', 707, 451, {anchor:'l', size:10});
</script></body></html>
